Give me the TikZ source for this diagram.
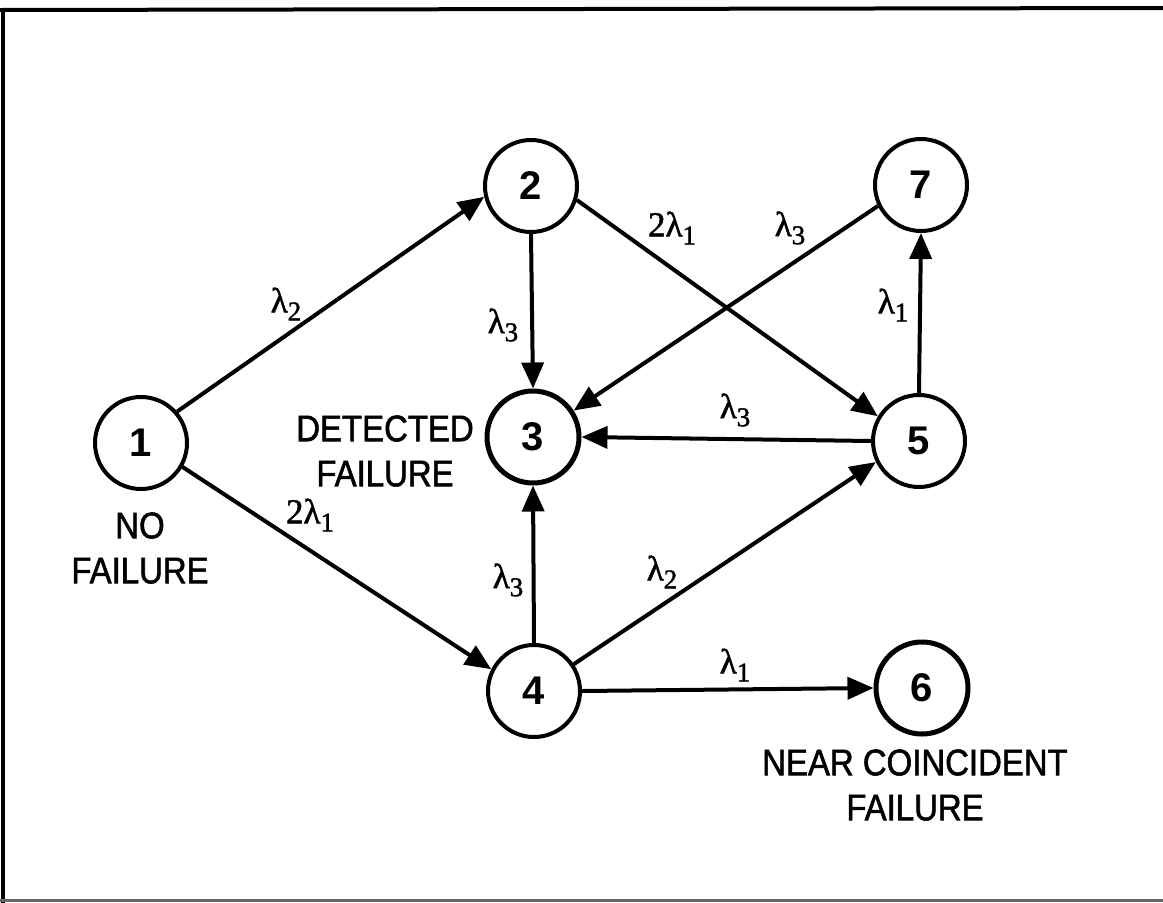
\documentclass[tikz,border=0pt]{standalone}
\usepackage{fontspec}
\setmainfont{Liberation Sans}
\newfontfamily\lblfont[FakeStretch=0.89,FakeBold=1.5]{Liberation Sans}
\newfontfamily\lamfont[FakeBold=1.5]{Liberation Serif}
\usetikzlibrary{arrows.meta}
\newcommand{\lamsub}[2]{#1λ\raisebox{-8pt}{\fontsize{27}{27}\selectfont #2}}
\tikzset{
  state/.style={circle, draw, line width=4pt, minimum size=92pt, inner sep=0pt,
    font=\fontsize{40}{40}\selectfont\bfseries},
  thick state/.style={state, line width=5pt},
  edge/.style={line width=4pt, -{Triangle[length=26pt,width=22pt]}},
  lam/.style={inner sep=0pt, font=\lamfont\fontsize{35}{35}\selectfont},
  caption/.style={inner sep=0pt, align=center, font=\lblfont\fontsize{37}{45}\selectfont},
  frame/.style={line width=4pt}
}
\begin{document}
\begin{tikzpicture}[x=1pt,y=-1pt]
\useasboundingbox (0,0) rectangle (1163,903);
\draw[frame] (0,10) -- (1163,8);
\draw[frame] (3,8) -- (3,903);
\draw[line width=3pt, black!60] (0,900) -- (1163,900);

\node[state] (n1) at (141,443) {1};
\node[state] (n2) at (531,186) {2};
\node[thick state] (n3) at (533,437) {3};
\node[state] (n4) at (534,691) {4};
\node[state] (n5) at (919,441) {5};
\node[thick state] (n6) at (922,688) {6};
\node[state] (n7) at (921,185) {7};

\draw[edge] (n1.41) -- (n2.193);
\draw[edge] (n1.-30) -- (n4.153);
\draw[edge] (n2.south) -- (n3.north);
\draw[edge] (n2.-17) -- (n5.149);
\draw[edge] (n7.206) -- (n3.33);
\draw[edge] (n5.north) -- (n7.south);
\draw[edge] (n5.west) -- (n3.east);
\draw[edge] (n4.north) -- (n3.south);
\draw[edge] (n4.34) -- (n5.206);
\draw[edge] (n4.east) -- (n6.west);

\node[lam] (l12) at (286,304) {\lamsub{}{2}};
\node[lam] (l14) at (310,515) {\lamsub{2}{1}};
\node[lam] (l23) at (503,325) {\lamsub{}{3}};
\node[lam] (l25) at (672,228) {\lamsub{2}{1}};
\node[lam] (l73) at (790,228) {\lamsub{}{3}};
\node[lam] (l57) at (893,305) {\lamsub{}{1}};
\node[lam] (l53) at (735,410) {\lamsub{}{3}};
\node[lam] (l43) at (508,580) {\lamsub{}{3}};
\node[lam] (l45) at (662,572) {\lamsub{}{2}};
\node[lam] (l46) at (735,665) {\lamsub{}{1}};

\node[caption] (c3) at (385,451) {DETECTED\\FAILURE};
\node[caption] (c1) at (140,548) {NO\\FAILURE};
\node[caption] (c6) at (915,785) {NEAR COINCIDENT\\FAILURE};
\end{tikzpicture}
\end{document}
